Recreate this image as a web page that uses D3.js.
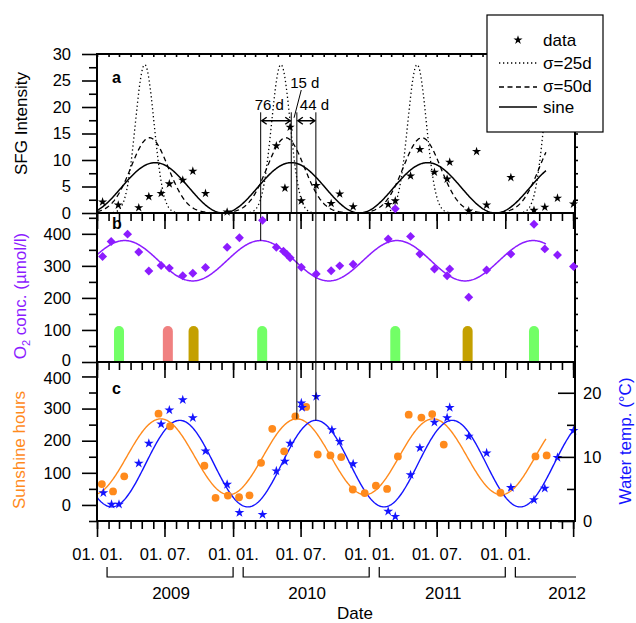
<!DOCTYPE html>
<html>
<head>
<meta charset="utf-8">
<script src="https://cdn.jsdelivr.net/npm/d3@7"></script>
<style>
  body { margin: 0; background: #fff; }
  text { font-family: "Liberation Sans", Arial, sans-serif; }
</style>
</head>
<body>
<svg id="chart" width="636" height="623"></svg>
<script>
// ---- data ----
const sfgDates = ['2009-01-16','2009-02-27','2009-04-23','2009-05-20','2009-06-22','2009-07-14','2009-08-19','2009-09-15','2009-10-19','2009-12-16',
  '2010-04-27','2010-05-20','2010-06-03','2010-07-03','2010-08-12','2010-09-21','2010-10-14','2010-11-19',
  '2011-02-21','2011-03-12','2011-04-22','2011-05-17','2011-06-25','2011-07-29','2011-08-05','2011-09-25','2011-10-16','2011-11-12',
  '2012-01-16','2012-03-18','2012-04-16','2012-05-20','2012-07-02'];
const sfgValues = [2.1,1.5,1.0,3.1,3.7,5.5,6.2,7.9,3.7,0.2, 12.7,4.7,16.2,2.3,5.2,1.8,3.6,1.2, 1.6,2.3,7.0,12.0,7.7,6.4,9.6,0.4,11.6,1.5, 6.7,0.5,1.1,2.8,1.7];

const o2Dates = ['2009-01-16','2009-02-08','2009-03-24','2009-04-23','2009-05-20','2009-06-22','2009-07-14','2009-08-19','2009-09-15','2009-10-19','2009-12-16',
  '2010-01-18','2010-03-21','2010-04-27','2010-05-16','2010-05-25','2010-06-03','2010-07-03','2010-08-12','2010-09-21','2010-10-14','2010-11-19',
  '2011-02-21','2011-03-12','2011-04-22','2011-05-17','2011-06-25','2011-07-29','2011-08-05','2011-09-25','2011-11-12',
  '2012-01-16','2012-03-18','2012-04-16','2012-05-20','2012-07-02'];
const o2Values = [329,376,399,343,284,301,293,269,277,295,358, 388,442,358,346,336,325,296,275,285,300,305, 384,478,392,337,290,269,290,202,287, 337,430,353,334,298];

const sunDates = ['2009-01-14','2009-02-13','2009-03-15','2009-06-15','2009-07-16','2009-10-16','2009-11-15','2009-12-18',
  '2010-01-17','2010-02-14','2010-03-17','2010-04-16','2010-05-18','2010-06-17','2010-07-16','2010-08-16','2010-09-19','2010-10-18','2010-11-18','2010-12-20',
  '2011-01-19','2011-02-18','2011-03-19','2011-04-17','2011-05-21','2011-06-19','2011-07-20','2011-12-19',
  '2012-03-22','2012-04-21'];
const sunValues = [65,42,89,284,245,122,22,29, 24,30,131,237,167,276,305,157,154,149,48,37, 60,50,151,281,272,283,188,38, 151,154];

const waterDates = ['2009-01-18','2009-02-09','2009-03-01','2009-04-23','2009-05-20','2009-06-22','2009-07-14','2009-08-19','2009-09-15','2009-10-19','2009-12-16',
  '2010-01-18','2010-03-21','2010-04-27','2010-05-20','2010-06-03','2010-07-03','2010-07-05','2010-08-12','2010-09-23','2010-10-14','2010-11-19',
  '2011-02-21','2011-03-12','2011-04-22','2011-05-17','2011-06-25','2011-07-29','2011-08-05','2011-09-25','2011-11-12',
  '2012-01-16','2012-03-18','2012-04-16','2012-05-20','2012-07-02'];
const waterValues = [4.4,2.6,2.6,9.0,12.1,15.1,17.3,18.9,16.1,10.9,5.7, 1.3,1.0,7.8,9.3,12.1,18.4,17.7,19.4,14.2,12.4,8.9, 1.5,0.7,7.2,11.4,15.4,16.1,17.7,13.2,10.6, 5.2,3.3,5.1,9.9,14.1];

// event bars in panel b
const barDates = ['2009-03-01','2009-07-10','2009-09-17','2010-03-20','2011-03-12','2011-09-22','2012-03-18'];
const barKinds = ['green','red','olive','green','green','olive','green'];
const barValues = [112,112,112,112,112,112,112];

// fitted curves: sine fits (sfg, o2, sunshine, water temp)
const fitMean = [4.75, 316, 150, 8.95];
const fitAmp = [4.75, 63, 118, 6.75];
const fitPeakDay = [156, 74, 171, 222];   // day of year of the maximum
// gaussian fits to SFG (sigma = 25 d, 50 d)
const gaussSigma = [25, 50];
const gaussPeak = [28, 14.2];
const gaussCenterDay = [128, 141];

const annotLabels = ['76 d', '15 d', '44 d'];
const xTickDates = ['2009-01-01','2009-07-01','2010-01-01','2010-07-01','2011-01-01','2011-07-01','2012-01-01'];
const years = ['2009','2010','2011','2012'];

// ---- setup ----
const parse = d3.timeParse('%Y-%m-%d');
const DAY = 864e5;
const t0 = parse('2009-01-01');
const fitEnd = parse('2012-04-20');
const xEnd = parse('2012-07-06');

const svg = d3.select('#chart');
const left = 97, right = 575;

const x = d3.scaleTime().domain([t0, xEnd]).range([left, right]);
const yA = d3.scaleLinear().domain([0, 30]).range([213, 54]);
const yB = d3.scaleLinear().domain([0, 465]).range([362, 213]);
const yC = d3.scaleLinear().domain([-50, 445]).range([521, 362]);
const yT = d3.scaleLinear().domain([0, 24.8]).range([521, 362]);

const purple = '#8c1cff';
const orange = '#ff8a1c';
const blue = '#1414ff';
const barColor = { green: '#72ff66', red: '#f08080', olive: '#c4a000' };

const days = (d) => (d - t0) / DAY;
const sineAt = (d, i) => fitMean[i] + fitAmp[i] * Math.cos(2 * Math.PI * (days(d) - fitPeakDay[i]) / 365.25);
const gaussAt = (d, k) => {
  let s = 0;
  for (let yr = -1; yr <= 4; yr++) {
    const c = yr * 365.25 + gaussCenterDay[k];
    s += gaussPeak[k] * Math.exp(-0.5 * Math.pow((days(d) - c) / gaussSigma[k], 2));
  }
  return s;
};

const fitDays = d3.timeDay.range(t0, d3.timeDay.offset(fitEnd, 1), 2);
const fitDaysLong = d3.timeDay.range(t0, d3.timeDay.offset(xEnd, 1), 2);

const plot = svg.append('g');

// ---- panel b bars ----
plot.selectAll('.evbar')
  .data(barDates.map((d, i) => ({ date: parse(d), kind: barKinds[i], v: barValues[i] })))
  .enter().append('path')
  .attr('fill', (d) => barColor[d.kind])
  .attr('d', (d) => {
    const cx = x(d.date), w = 5, top = yB(d.v), b = yB(0);
    return `M${cx - w},${b}V${top + w}A${w},${w} 0 0 1 ${cx + w},${top + w}V${b}Z`;
  });

// ---- curves ----
const lineOf = (fn, ys) => d3.line().x((d) => x(d)).y((d) => ys(fn(d)));

plot.append('path').attr('d', lineOf((d) => gaussAt(d, 0), yA)(fitDays))
  .attr('fill', 'none').attr('stroke', '#000').attr('stroke-width', 1.3).attr('stroke-dasharray', '1.3,2.7');
plot.append('path').attr('d', lineOf((d) => gaussAt(d, 1), yA)(fitDays))
  .attr('fill', 'none').attr('stroke', '#000').attr('stroke-width', 1.3).attr('stroke-dasharray', '5,3.5');
plot.append('path').attr('d', lineOf((d) => sineAt(d, 0), yA)(fitDays))
  .attr('fill', 'none').attr('stroke', '#000').attr('stroke-width', 1.5);

plot.append('path').attr('d', lineOf((d) => sineAt(d, 1), yB)(fitDays))
  .attr('fill', 'none').attr('stroke', purple).attr('stroke-width', 1.5);

plot.append('path').attr('d', lineOf((d) => sineAt(d, 2), yC)(fitDays))
  .attr('fill', 'none').attr('stroke', orange).attr('stroke-width', 1.4);
plot.append('path').attr('d', lineOf((d) => sineAt(d, 3), yT)(fitDaysLong))
  .attr('fill', 'none').attr('stroke', blue).attr('stroke-width', 1.4);

// ---- annotation: peak lines in 2010 ----
const peak2010 = (i) => d3.timeDay.offset(parse('2010-01-01'), fitPeakDay[i]);
const xO2 = x(peak2010(1)), xSfg = x(peak2010(0)), xSun = x(peak2010(2)), xWat = x(peak2010(3));
const topY = yA(19);
const annot = svg.append('g').attr('stroke', '#000').attr('stroke-width', 1).attr('fill', 'none');
annot.append('line').attr('x1', xO2).attr('x2', xO2).attr('y1', topY).attr('y2', yB(sineAt(peak2010(1), 1)));
annot.append('line').attr('x1', xSfg).attr('x2', xSfg).attr('y1', topY).attr('y2', yA(0));
annot.append('line').attr('x1', xSun).attr('x2', xSun).attr('y1', topY).attr('y2', yC(sineAt(peak2010(2), 2)));
annot.append('line').attr('x1', xWat).attr('x2', xWat).attr('y1', topY).attr('y2', yT(sineAt(peak2010(3), 3)));

const arrowY = yA(17.4);
const dblArrow = (x1, x2) => {
  const h = 5, v = 3.5;
  annot.append('path').attr('stroke-width', 1.4)
    .attr('d', `M${x1 + 1},${arrowY}H${x2 - 1}M${x1 + 1 + h},${arrowY - v}L${x1 + 1},${arrowY}L${x1 + 1 + h},${arrowY + v}` +
      `M${x2 - 1 - h},${arrowY - v}L${x2 - 1},${arrowY}L${x2 - 1 - h},${arrowY + v}`);
};
dblArrow(xO2, xSfg);
dblArrow(xSun, xWat);
annot.append('line').attr('x1', xSfg + 10).attr('y1', yA(23.2)).attr('x2', (xSfg + xSun) / 2).attr('y2', arrowY - 3);

svg.append('text').attr('x', xO2 - 6).attr('y', yA(19.4)).attr('font-size', 15).text(annotLabels[0]);
svg.append('text').attr('x', xSfg - 1).attr('y', yA(23.6)).attr('font-size', 15).text(annotLabels[1]);
svg.append('text').attr('x', xSun + 3).attr('y', yA(19.4)).attr('font-size', 15).text(annotLabels[2]);

// ---- markers ----
const star = d3.symbol().type(d3.symbolStar).size(26);
const starBlue = d3.symbol().type(d3.symbolStar).size(30);
const square = d3.symbol().type(d3.symbolSquare).size(40);

plot.selectAll('.sfg').data(sfgDates.map((d, i) => [parse(d), sfgValues[i]])).enter().append('path')
  .attr('d', star).attr('fill', '#000')
  .attr('transform', (d) => `translate(${x(d[0])},${yA(d[1])})`);

plot.selectAll('.sun').data(sunDates.map((d, i) => [parse(d), sunValues[i]])).enter().append('circle')
  .attr('cx', (d) => x(d[0])).attr('cy', (d) => yC(d[1])).attr('r', 3.9).attr('fill', orange);

plot.selectAll('.wat').data(waterDates.map((d, i) => [parse(d), waterValues[i]])).enter().append('path')
  .attr('d', starBlue).attr('fill', blue)
  .attr('transform', (d) => `translate(${x(d[0])},${yT(d[1])})`);

// ---- axes and frames ----
const months = d3.timeMonth.range(t0, xEnd);
const halfYears = d3.timeMonth.every(6).range(t0, xEnd);

const styleAxis = (g) => {
  g.select('.domain').remove();
  g.selectAll('.tick line').attr('stroke', '#000').attr('stroke-width', 1.6);
  g.selectAll('.tick text').attr('font-size', 16.5).attr('fill', '#000')
    .style('font-family', '"Liberation Sans", Arial, sans-serif');
};

[213, 362, 521].forEach((yy) => {
  svg.append('g').attr('transform', `translate(0,${yy})`)
    .call(d3.axisBottom(x).tickValues(months).tickSize(8).tickFormat('')).call(styleAxis);
  svg.append('g').attr('transform', `translate(0,${yy})`)
    .call(d3.axisBottom(x).tickValues(halfYears).tickSize(16).tickFormat('')).call(styleAxis);
});
svg.append('g').attr('transform', `translate(0,${yA(30)})`)
  .call(d3.axisTop(x).tickValues(months).tickSize(-3).tickFormat('')).call(styleAxis);

// bottom date labels
svg.append('g').attr('transform', 'translate(0,521)')
  .call(d3.axisBottom(x).tickValues(xTickDates.map(parse)).tickSize(0).tickPadding(27)
    .tickFormat(d3.timeFormat('%d. %m.'))).call(styleAxis);

// left axes
const leftAxis = (ys, major, minor) => {
  svg.append('g').attr('transform', `translate(${left},0)`)
    .call(d3.axisLeft(ys).tickValues(minor).tickSize(8).tickFormat('')).call(styleAxis);
  return svg.append('g').attr('transform', `translate(${left},0)`)
    .call(d3.axisLeft(ys).tickValues(major).tickSize(15).tickPadding(11).tickFormat(d3.format('d'))).call(styleAxis);
};
leftAxis(yA, d3.range(0, 31, 5), d3.range(2.5, 30, 5));
const axB = leftAxis(yB, d3.range(0, 401, 100), d3.range(50, 465, 100));
const axC = leftAxis(yC, d3.range(0, 401, 100), d3.range(-50, 445, 100));
// keep the touching labels at the panel joint apart
axB.selectAll('.tick text').filter((d) => d === 0).attr('y', -2);
axC.selectAll('.tick text').filter((d) => d === 400).attr('y', 2);

// right axes
svg.append('g').attr('transform', `translate(${right},0)`)
  .call(d3.axisRight(yA).tickValues(d3.range(2.5, 30, 2.5)).tickSize(3).tickFormat('')).call(styleAxis);
svg.append('g').attr('transform', `translate(${right},0)`)
  .call(d3.axisRight(yB).tickValues(d3.range(50, 465, 50)).tickSize(3).tickFormat('')).call(styleAxis);
svg.append('g').attr('transform', `translate(${right},0)`)
  .call(d3.axisRight(yT).tickValues([5, 15]).tickSize(-8).tickFormat('')).call(styleAxis);
svg.append('g').attr('transform', `translate(${right},0)`)
  .call(d3.axisRight(yT).tickValues([0, 10, 20]).tickSize(-17).tickPadding(8).tickFormat(d3.format('d'))).call(styleAxis);

// frames
[[yA(30), yA(0)], [yB(465), yB(0)], [yC(445), yC(-50)]].forEach(([t, b]) => {
  svg.append('rect').attr('x', left).attr('y', t).attr('width', right - left).attr('height', b - t)
    .attr('fill', 'none').attr('stroke', '#000').attr('stroke-width', 2);
});

// O2 diamonds (drawn over frame, one point overshoots the panel)
svg.selectAll('.o2').data(o2Dates.map((d, i) => [parse(d), o2Values[i]])).enter().append('path')
  .attr('d', square).attr('fill', purple)
  .attr('transform', (d) => `translate(${x(d[0])},${yB(d[1])}) rotate(45)`);

// year brackets
const yearG = svg.append('g');
years.forEach((yr, i) => {
  const a = x(d3.timeDay.offset(parse(`${yr}-01-01`), 27));
  const last = i === years.length - 1;
  const b = last ? right + 1 : x(parse(`${+yr + 1}-01-01`));
  const yb = 577;
  yearG.append('path').attr('fill', 'none').attr('stroke', '#000').attr('stroke-width', 1.2)
    .attr('d', `M${a},${yb - 10}V${yb}H${b}` + (last ? '' : `V${yb - 10}`));
  const cx = last ? x(parse('2012-06-15')) : (a + b) / 2 + 1;
  yearG.append('text').attr('x', cx).attr('y', 599).attr('text-anchor', 'middle').attr('font-size', 17).text(yr);
});
svg.append('text').attr('x', 355).attr('y', 619).attr('text-anchor', 'middle').attr('font-size', 17).text('Date');

// panel letters
svg.append('text').attr('x', 112).attr('y', 83).attr('font-size', 16).attr('font-weight', 'bold').text('a');
svg.append('text').attr('x', 112).attr('y', 229).attr('font-size', 16).attr('font-weight', 'bold').text('b');
svg.append('text').attr('x', 112).attr('y', 394).attr('font-size', 16).attr('font-weight', 'bold').text('c');

// axis titles
svg.append('text').attr('transform', `translate(27,${(yA(0) + yA(30)) / 2 - 10}) rotate(-90)`)
  .attr('text-anchor', 'middle').attr('font-size', 17).text('SFG Intensity');
const o2t = svg.append('text').attr('transform', 'translate(26,296) rotate(-90)')
  .attr('text-anchor', 'middle').attr('font-size', 17).attr('fill', purple);
o2t.append('tspan').text('O');
o2t.append('tspan').attr('font-size', 11).attr('dy', 4).text('2');
o2t.append('tspan').attr('dy', -4).text(' conc. (\u00b5mol/l)');
svg.append('text').attr('transform', 'translate(25,450) rotate(-90)')
  .attr('text-anchor', 'middle').attr('font-size', 17).attr('fill', orange).text('Sunshine hours');
svg.append('text').attr('transform', 'translate(631,441) rotate(-90)')
  .attr('text-anchor', 'middle').attr('font-size', 17).attr('fill', blue).text('Water temp. (\u00b0C)');

// ---- legend ----
const lg = svg.append('g');
lg.append('rect').attr('x', 487).attr('y', 15).attr('width', 116).attr('height', 117)
  .attr('fill', '#fff').attr('stroke', '#000').attr('stroke-width', 1.2);
lg.append('path').attr('d', star).attr('fill', '#000').attr('transform', 'translate(518,40)');
lg.append('line').attr('x1', 499).attr('x2', 537).attr('y1', 63).attr('y2', 63)
  .attr('stroke', '#000').attr('stroke-width', 1.3).attr('stroke-dasharray', '1.3,2.7');
lg.append('line').attr('x1', 499).attr('x2', 537).attr('y1', 87).attr('y2', 87)
  .attr('stroke', '#000').attr('stroke-width', 1.3).attr('stroke-dasharray', '5,3.5');
lg.append('line').attr('x1', 499).attr('x2', 537).attr('y1', 107).attr('y2', 107)
  .attr('stroke', '#000').attr('stroke-width', 1.5);
['data', '\u03c3=25d', '\u03c3=50d', 'sine'].forEach((t, i) => {
  lg.append('text').attr('x', 543).attr('y', [46, 69, 92, 113][i]).attr('font-size', 17).text(t);
});
</script>
</body>
</html>
